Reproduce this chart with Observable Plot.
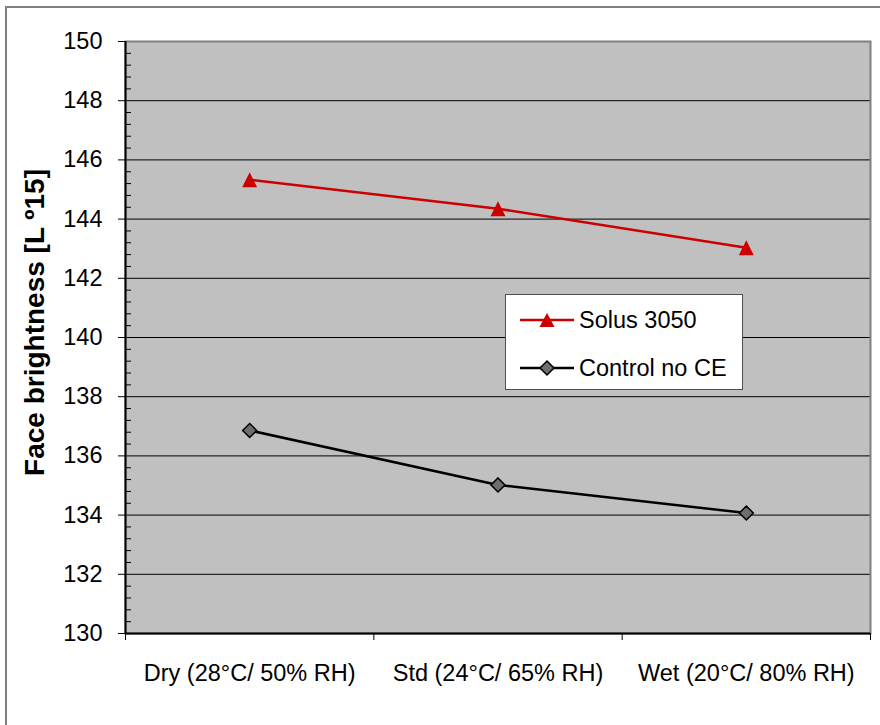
<!DOCTYPE html>
<html>
<head>
<meta charset="utf-8">
<script src="https://cdn.jsdelivr.net/npm/d3@7"></script>
<script src="https://cdn.jsdelivr.net/npm/@observablehq/plot@0.6"></script>
<style>
  body { margin: 0; background: #fff; font-family: "Liberation Sans", Arial, sans-serif; }
  #wrap { position: relative; width: 880px; height: 725px; overflow: hidden; background: #fff; }
  #edge { position: absolute; left: 5px; top: 6px; width: 900px; height: 800px;
          border-top: 2px solid #808080; border-left: 2px solid #808080; box-sizing: border-box; }
  #chart { position: absolute; left: 0; top: 0; }
  #legend { position: absolute; left: 505px; top: 294px; width: 238px; height: 96px; box-sizing: border-box;
            background: #fff; border: 1.5px solid #505050; }
  #legend .row { position: absolute; left: 14px; height: 30px; display: flex; align-items: center; }
  #legend .row span { font-size: 23.5px; color: #000; margin-left: 5px; white-space: nowrap; }
</style>
</head>
<body>
<div id="wrap">
  <div id="edge"></div>
  <div id="chart"></div>
  <div id="legend"></div>
</div>
<script>
// Conditions along the x axis
const categories = ["Dry (28°C/ 50% RH)", "Std (24°C/ 65% RH)", "Wet (20°C/ 80% RH)"];
// Face brightness for each series, one value per condition
const solus = [145.33, 144.35, 143.03];
const control = [136.86, 135.02, 134.07];
const seriesNames = ["Solus 3050", "Control no CE"];
// Axis ticks
const yTicks = [130, 132, 134, 136, 138, 140, 142, 144, 146, 148, 150];
const yMinor = d3.range(130, 150, 0.4).map(v => +v.toFixed(1)).filter(v => !yTicks.includes(v));
const yGrid = yTicks.filter(v => v > 130 && v < 150);

const RED = "#cc0000";
const FONT = '"Liberation Sans", Arial, sans-serif';

// Symbols centred on their bounding box
const triangleUp = {
  draw(ctx, size) {
    const s = Math.sqrt(size);
    ctx.moveTo(0, -s / 2); ctx.lineTo(s / 2, s / 2); ctx.lineTo(-s / 2, s / 2); ctx.closePath();
  }
};
const diamond = {
  draw(ctx, size) {
    const h = Math.sqrt(size) / 2;
    ctx.moveTo(0, -h); ctx.lineTo(h, 0); ctx.lineTo(0, h); ctx.lineTo(-h, 0); ctx.closePath();
  }
};
const rFor = side => Math.sqrt(side * side / Math.PI);

const rows = (values, name) => values.map((v, i) => ({ i: i + 0.5, category: categories[i], value: v, series: name }));
const solusData = rows(solus, seriesNames[0]);
const controlData = rows(control, seriesNames[1]);

const chart = Plot.plot({
  width: 880,
  height: 725,
  marginTop: 41,
  marginBottom: 92,
  marginLeft: 125,
  marginRight: 10,
  style: { fontFamily: FONT, fontSize: "23.5px", color: "#000", background: "transparent" },
  x: { type: "linear", domain: [0, categories.length] },
  y: { domain: [130, 150] },
  marks: [
    Plot.frame({ fill: "#c0c0c0" }),
    Plot.ruleY(yGrid, { stroke: "#000", strokeWidth: 1 }),
    Plot.frame({ stroke: "#808080", strokeWidth: 2 }),
    Plot.ruleX([0], { stroke: "#000", strokeWidth: 2 }),
    Plot.ruleY([130], { stroke: "#000", strokeWidth: 2 }),
    // y axis: major ticks with labels, minor ticks pointing inward
    Plot.axisY({ ticks: yTicks, tickSize: 7, tickPadding: 16, tickFormat: d => d, label: null, stroke: "#000" }),
    Plot.axisY({ ticks: yMinor, tickSize: -6, tickFormat: () => "", label: null, stroke: "#000" }),
    // x axis: ticks at category boundaries, labels at category centres
    Plot.axisX({ ticks: d3.range(categories.length + 1), tickSize: 7, tickFormat: () => "", label: null, stroke: "#000" }),
    Plot.axisX({ ticks: categories.map((c, i) => i + 0.5), tickSize: 0, tickPadding: 31, tickFormat: (d) => categories[Math.floor(d)], label: null }),
    Plot.text(["Face brightness [L º15]"], {
      frameAnchor: "left", textAnchor: "middle", rotate: -90, dx: -90, dy: -15,
      fontSize: 28, fontWeight: "bold", fill: "#000"
    }),
    // series
    Plot.line(solusData, { x: "i", y: "value", stroke: RED, strokeWidth: 2.5 }),
    Plot.dot(solusData, { x: "i", y: "value", symbol: triangleUp, r: rFor(15), fill: RED, stroke: "none" }),
    Plot.line(controlData, { x: "i", y: "value", stroke: "#000", strokeWidth: 2.5 }),
    Plot.dot(controlData, { x: "i", y: "value", symbol: diamond, r: rFor(14), fill: "#6e6e6e", stroke: "#000", strokeWidth: 1.5 })
  ]
});
document.getElementById("chart").appendChild(chart);

// Legend inside the plot area
const legend = d3.select("#legend");
const legendItems = [
  { name: seriesNames[0], color: RED, shape: "triangle", top: 10 },
  { name: seriesNames[1], color: "#000", shape: "diamond", top: 58 }
];
legendItems.forEach(item => {
  const row = legend.append("div").attr("class", "row").style("top", item.top + "px");
  const svg = row.append("svg").attr("width", 54).attr("height", 30);
  svg.append("line").attr("x1", 0).attr("x2", 54).attr("y1", 15).attr("y2", 15)
    .attr("stroke", item.color).attr("stroke-width", 2.5);
  if (item.shape === "triangle") {
    svg.append("path").attr("d", "M27,8 L34.5,22 L19.5,22 Z").attr("fill", RED);
  } else {
    svg.append("path").attr("d", "M27,8 L34,15 L27,22 L20,15 Z").attr("fill", "#6e6e6e")
      .attr("stroke", "#000").attr("stroke-width", 1.5);
  }
  row.append("span").text(item.name);
});
</script>
</body>
</html>
